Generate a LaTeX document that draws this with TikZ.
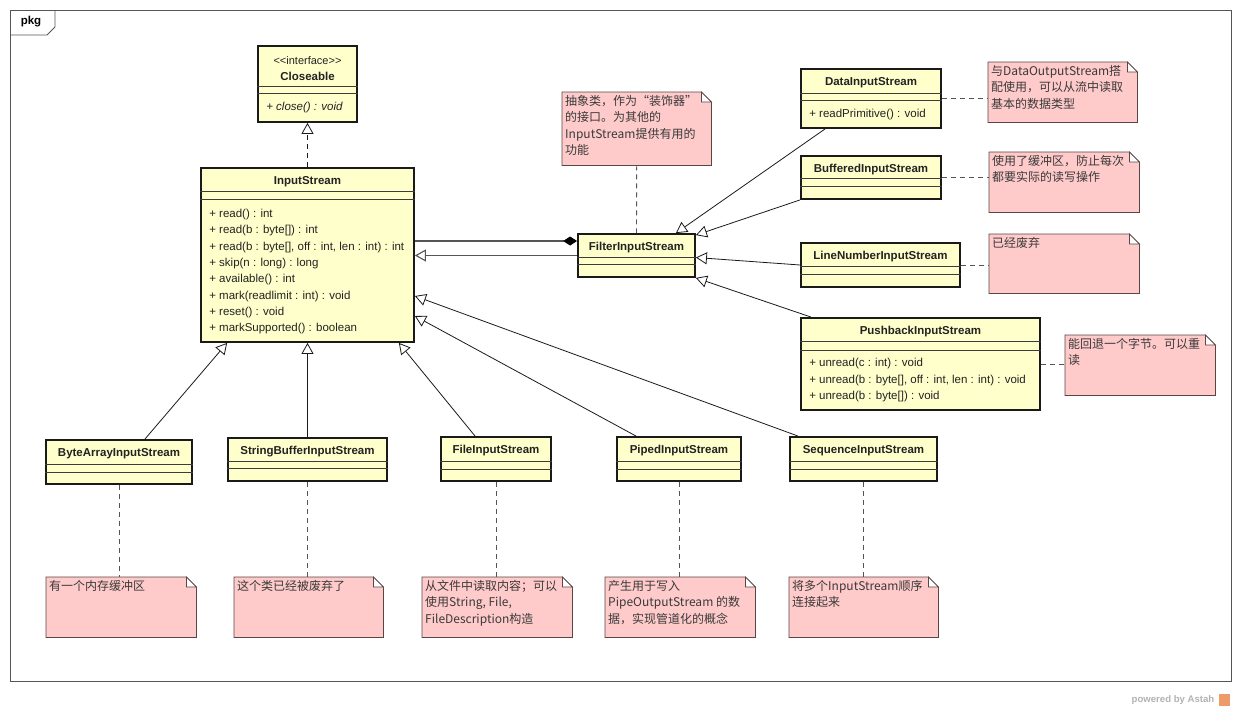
\documentclass[tikz,border=0pt]{standalone}
\usepackage{fontspec}
\setmainfont{Liberation Sans}
\newfontfamily\cjk{Noto Sans CJK SC}
\usepackage{tikz}
\usetikzlibrary{arrows.meta,calc,backgrounds,positioning}
\definecolor{umlyellow}{HTML}{FFFFCC}
\definecolor{umlpink}{HTML}{FFCACA}
\definecolor{umlline}{HTML}{1A1A1A}
\definecolor{umlgray}{HTML}{555555}
\definecolor{umltext}{HTML}{222222}
\definecolor{notetext}{HTML}{3A3A3A}
\definecolor{notedraw}{HTML}{5A4545}
\definecolor{astah}{HTML}{EF9A6A}
\tikzset{
  cls/.style={draw=umlline,line width=1.8pt,fill=umlyellow,inner sep=0pt},
  ctitle/.style={font=\fontsize{11.5}{13}\selectfont\bfseries,text=umltext,inner sep=0pt,anchor=base},
  ops/.style={font=\fontsize{11.5}{16.3}\selectfont,text=umltext,inner sep=0pt,align=left,anchor=west},
  sep/.style={draw=umlline!85,line width=1.2pt},
  note/.style={anchor=north west,inner sep=3pt,font=\cjk\fontsize{12}{16.5}\selectfont,text=notetext},
  notebox/.style={draw=notedraw,fill=umlpink,line width=0.7pt},
  gen/.style={-{Triangle[length=11pt,width=12pt,fill=white]},draw=umlline,line width=0.8pt},
  real/.style={gen,dash pattern=on 5pt off 4pt},
  compo/.style={-{Diamond[length=14pt,width=9pt,color=black]},draw=umlgray,line width=1.1pt},
  nlink/.style={draw=umlgray,line width=0.9pt,dash pattern=on 5pt off 4pt},
  frame/.style={draw=umlgray,line width=0.8pt},
}

\begin{document}
\begin{tikzpicture}[x=1pt,y=-1pt]
  \useasboundingbox (0,0) rectangle (1240,710);
  % package frame
  \draw[frame] (10,10) rectangle (1231,681);
  \draw[frame] (10,35) -- (47,35) -- (55,27) -- (55,10);
  \node[font=\fontsize{11.5}{13}\selectfont\bfseries] (pkg) at (31,22) {pkg};

  % classes
  \node[cls,minimum width=99,minimum height=76] (clos) at (307.5,84) {};
  \node[cls,minimum width=213,minimum height=174] (ins) at (307.5,255) {};
  \node[cls,minimum width=117,minimum height=43] (fis) at (636.5,255.5) {};
  \node[cls,minimum width=140,minimum height=59] (dis) at (871,98.5) {};
  \node[cls,minimum width=140,minimum height=43] (bis) at (871,177.5) {};
  \node[cls,minimum width=159,minimum height=44] (lnis) at (880.5,265) {};
  \node[cls,minimum width=239,minimum height=92] (pbis) at (920.5,364) {};
  \node[cls,minimum width=146,minimum height=44] (bais) at (119,462) {};
  \node[cls,minimum width=159,minimum height=43] (sbis) at (307.5,459.5) {};
  \node[cls,minimum width=110,minimum height=44] (fileis) at (496,459) {};
  \node[cls,minimum width=124,minimum height=44] (pis) at (679,459) {};
  \node[cls,minimum width=147,minimum height=44] (seqis) at (863.5,459) {};

  \foreach \cl/\ya/\yb in {clos/41/48,ins/24.5/32,fis/24/31,dis/25/32,bis/23/31,lnis/24/32,
      pbis/24/33,bais/25/33,sbis/24/31,fileis/25/33,pis/25/33,seqis/25/33}{
    \draw[sep] ($(\cl.north west)+(0,\ya)$) -- ($(\cl.north east)+(0,\ya)$);
    \draw[sep] ($(\cl.north west)+(0,\yb)$) -- ($(\cl.north east)+(0,\yb)$);
  }

  \node[ctitle,font=\fontsize{11}{13}\selectfont] (clos-s) at ($(clos.north)+(0,19.5)$) {<\kern0pt<interface>\kern0pt>};
  \node[ctitle] (clos-t) at ($(clos.north)+(0,35.5)$) {Closeable};
  \foreach \cl/\tt in {ins/InputStream,fis/FilterInputStream,dis/DataInputStream,
      bis/BufferedInputStream,lnis/LineNumberInputStream,pbis/PushbackInputStream,
      bais/ByteArrayInputStream,sbis/StringBufferInputStream,fileis/FileInputStream,
      pis/PipedInputStream,seqis/SequenceInputStream}
    \node[ctitle] (\cl-t) at ($(\cl.north)+(0,17.5)$) {\tt};

  \node[ops] (clos-o) at ($(clos.north west)+(9,62)$) {\itshape + close() : void};
  \node[ops] (ins-o) at ($(ins.north west)+(9,104.5)$) {+ read() : int\\+ read(b : byte[]) : int\\+ read(b : byte[], off : int, len : int) : int\\+ skip(n : long) : long\\+ available() : int\\+ mark(readlimit : int) : void\\+ reset() : void\\+ markSupported() : boolean};
  \node[ops] (dis-o) at ($(dis.north west)+(9,46)$) {+ readPrimitive() : void};
  \node[ops] (pbis-o) at ($(pbis.north west)+(9,63)$) {+ unread(c : int) : void\\+ unread(b : byte[], off : int, len : int) : void\\+ unread(b : byte[]) : void};

  % notes
  \node[note] (nfilter) at (562,92) {\parbox[t][67pt][t]{143pt}{抽象类，作为“装饰器”\\的接口。为其他的\\InputStream提供有用的\\功能}};
  \node[note] (ndata) at (988,62) {\parbox[t][54pt][t]{143pt}{与DataOutputStream搭\\配使用，可以从流中读取\\基本的数据类型}};
  \node[note] (nbuf) at (989,152) {\parbox[t][54pt][t]{144pt}{使用了缓冲区，防止每次\\都要实际的读写操作}};
  \node[note] (nline) at (989,234) {\parbox[t][53pt][t]{144pt}{已经废弃}};
  \node[note] (npush) at (1065,335) {\parbox[t][54pt][t]{144pt}{能回退一个字节。可以重\\读}};
  \node[note] (nbais) at (46,577) {\parbox[t][54pt][t]{144pt}{有一个内存缓冲区}};
  \node[note] (nsbis) at (234,577) {\parbox[t][54pt][t]{143pt}{这个类已经被废弃了}};
  \node[note] (nfile) at (422,577) {\parbox[t][54pt][t]{144pt}{从文件中读取内容；可以\\使用String, File,\\FileDescription构造}};
  \node[note] (npipe) at (605,577) {\parbox[t][54pt][t]{144pt}{产生用于写入\\PipeOutputStream 的数\\据，实现管道化的概念}};
  \node[note] (nseq) at (789,577) {\parbox[t][54pt][t]{143pt}{将多个InputStream顺序\\连接起来}};

  \begin{scope}[on background layer]
    \foreach \n in {nfilter,ndata,nbuf,nline,npush,nbais,nsbis,nfile,npipe,nseq}{
      \draw[notebox] (\n.north west) -- ([xshift=-10pt]\n.north east) -- ([yshift=-10pt]\n.north east)
        -- (\n.south east) -- (\n.south west) -- cycle;
      \draw[notebox,fill=white] ([xshift=-10pt]\n.north east) |- ([yshift=-10pt]\n.north east) -- cycle;
    }
  \end{scope}

  % relations
  \draw[real] (ins.north) -- (clos.south);
  \coordinate (cmp) at ($(fis.west)+(0,-14.5)$);
  \draw[compo] (cmp -| ins.east) -- (cmp);
  \draw[gen,draw=umlgray,line width=1.1pt] (fis.west) -- (fis.west -| ins.east);
  \draw[gen] ([xshift=25pt]dis.south west) -- ([xshift=-20pt]fis.north east);
  \draw[gen] (bis.south west) -- ([yshift=-2pt]fis.north east);
  \draw[gen] (lnis.west) -- ([yshift=-2pt]fis.east);
  \draw[gen] ([xshift=11pt]pbis.north west) -- (fis.south east);
  \draw[gen] ([xshift=-48pt]bais.north east) -- ([xshift=27pt]ins.south west);
  \draw[gen] (sbis.north) -- (ins.south);
  \draw[gen] ([xshift=35pt]fileis.north west) -- ([xshift=-16pt]ins.south east);
  \draw[gen] ([xshift=20pt]pis.north west) -- ([yshift=-61pt]ins.east);
  \draw[gen] ([xshift=9pt]seqis.north west) -- ([yshift=-41pt]ins.east);

  % note links
  \draw[nlink] (nfilter.south) -- (fis.north);
  \draw[nlink] (dis.east) -- (dis.east -| ndata.west);
  \draw[nlink] (bis.east) -- (bis.east -| nbuf.west);
  \draw[nlink] (lnis.east) -- (lnis.east -| nline.west);
  \draw[nlink] (pbis.east) -- (pbis.east -| npush.west);
  \foreach \cl/\n in {bais/nbais,sbis/nsbis,fileis/nfile,pis/npipe,seqis/nseq}
    \draw[nlink] (\cl.south) -- (\cl.south |- \n.north);

  \node[font=\fontsize{9.6}{11}\selectfont\bfseries,text=black!30] (powered) at (1173,700) {powered by Astah};
  \node[fill=astah,minimum width=11,minimum height=12,inner sep=0pt,right=1pt of powered] (logo) {};
\end{tikzpicture}
\end{document}
